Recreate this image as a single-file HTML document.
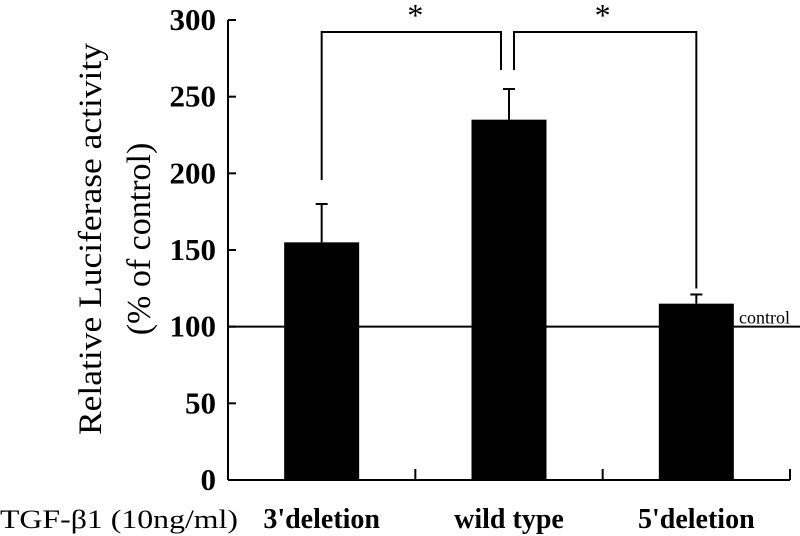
<!DOCTYPE html>
<html><head><meta charset="utf-8"><style>
html,body{margin:0;padding:0;background:#fff;}
svg{display:block;font-family:"Liberation Serif",serif;}
</style></head><body>
<svg id="chart" width="800" height="536" viewBox="0 0 800 536">
<g id="axes"></g><g id="marks"></g>
<text transform="translate(101,239) rotate(-90)" text-anchor="middle" font-size="33" textLength="392" lengthAdjust="spacingAndGlyphs">Relative Luciferase activity</text>
<text transform="translate(150,239) rotate(-90)" text-anchor="middle" font-size="34">(% of control)</text>
<text x="0" y="528" font-size="26" textLength="238" lengthAdjust="spacingAndGlyphs">TGF-β1 (10ng/ml)</text>
</svg>
<script>
const categories = ["3'deletion", "wild type", "5'deletion"];
const values = [155, 235, 115];
const errors = [25, 20, 6];
const yTicks = [0, 50, 100, 150, 200, 250, 300];
const controlValue = 100;

const NS = "http://www.w3.org/2000/svg";
const x0 = 228, x1 = 790, yBase = 480, yTop = 20, yMax = 300;
const y = v => yBase - (v / yMax) * (yBase - yTop);
const slotW = (x1 - x0) / categories.length;
const xc = i => x0 + slotW * (i + 0.5);
const barW = 75;
function mk(tag, attrs, parent, text) {
  const e = document.createElementNS(NS, tag);
  for (const k in attrs) e.setAttribute(k, attrs[k]);
  if (text !== undefined) e.textContent = text;
  parent.appendChild(e);
  return e;
}
const axes = document.getElementById('axes');
const marks = document.getElementById('marks');
const yl = mk('line', {x1: x0, y1: yTop, x2: x0, y2: yBase, stroke: '#000', 'stroke-width': 2}, axes);


const xl = mk('line', {x1: x0, y1: yBase, x2: x1, y2: yBase, stroke: '#000', 'stroke-width': 2}, axes);


yTicks.forEach(t => {
  const tk = mk('line', {x1: x0, y1: y(t), x2: x0 + 8, y2: y(t), stroke: '#000', 'stroke-width': 2}, axes);
  
  
  const lb = mk('text', {x: 216, y: y(t) + 10, 'text-anchor': 'end', 'font-size': 31, 'font-weight': 'bold'}, axes, String(t));
  
  
});
for (let i = 1; i <= categories.length; i++) {
  const xt = x0 + slotW * i;
  const tk = mk('line', {x1: xt, y1: yBase, x2: xt, y2: yBase - 11, stroke: '#000', 'stroke-width': 2}, axes);
  
  
}
const cl = mk('line', {x1: x0, y1: y(controlValue), x2: 800, y2: y(controlValue), stroke: '#000', 'stroke-width': 2}, marks);


const ct = mk('text', {x: 739, y: y(controlValue) - 3, 'font-size': 18}, marks, 'control');


categories.forEach((c, i) => {
  const cx = xc(i);
  const top = values[i] + errors[i];
  const eb = mk('line', {x1: cx, y1: y(values[i]), x2: cx, y2: y(top), stroke: '#000', 'stroke-width': 2}, marks);
  
  
  const cap = mk('line', {x1: cx - 6, y1: y(top), x2: cx + 6, y2: y(top), stroke: '#000', 'stroke-width': 2}, marks);
  
  
  const r = mk('rect', {x: cx - barW / 2, y: y(values[i]), width: barW, height: yBase - y(values[i]), fill: '#000'}, marks);
  
  
  const lb = mk('text', {x: cx, y: 528, 'text-anchor': 'middle', 'font-size': 28, 'font-weight': 'bold'}, marks, c);
  
  
});
const bY = 32;
const b1 = mk('polyline', {points: `${xc(0)},${y(values[0] + errors[0]) - 24} ${xc(0)},${bY} ${xc(1) - 8},${bY} ${xc(1) - 8},${bY + 38}`, fill: 'none', stroke: '#000', 'stroke-width': 2}, marks);


const b2 = mk('polyline', {points: `${xc(1) + 5},${bY + 38} ${xc(1) + 5},${bY} ${xc(2)},${bY} ${xc(2)},${y(values[2] + errors[2]) - 6}`, fill: 'none', stroke: '#000', 'stroke-width': 2}, marks);


const s1 = mk('text', {x: (xc(0) + xc(1)) / 2, y: 26, 'text-anchor': 'middle', 'font-size': 32}, marks, '*');


const s2 = mk('text', {x: (xc(1) + xc(2)) / 2, y: 26, 'text-anchor': 'middle', 'font-size': 32}, marks, '*');


</script>
</body></html>
